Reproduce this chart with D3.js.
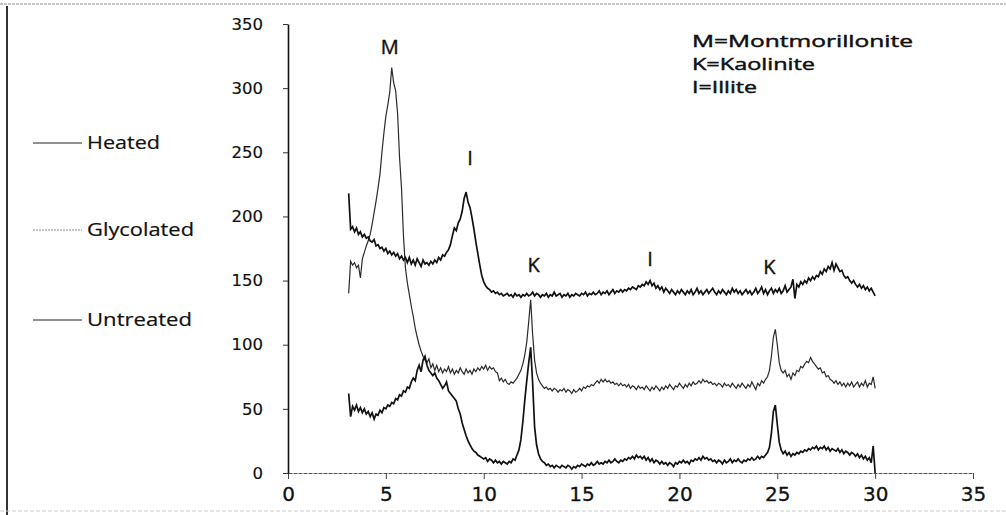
<!DOCTYPE html>
<html>
<head>
<meta charset="utf-8">
<script src="https://cdn.jsdelivr.net/npm/d3@7"></script>
<style>
  body { margin: 0; background: #fff; }
  svg { display: block; }
</style>
</head>
<body>
<div id="chart"></div>
<script>

// 2-theta sampling grid, 3.1 .. 30.0 in steps of 0.1 (270 points)
const twoTheta = d3.range(31, 301).map(function(d){ return d / 10 })

// intensities, one row per degree
const heated = [
    218,190,192,188,191,186,188,184,186,183,   // 3.1 - 4.0
    184,181,180,182,177,178,175,176,173,175,
    171,173,170,172,169,171,167,169,166,168,
    164,168,163,166,162,167,164,161,166,163,
    164,162,165,163,166,164,168,166,170,169,
    172,174,178,185,191,189,195,198,204,214,
    219,211,207,199,190,180,171,162,154,149,   // 9.1 - 10.0
    146,144,143,141,142,140,141,139,140,138,
    139,140,138,139,137,140,138,139,137,139,
    138,140,138,139,141,138,140,139,137,139,
    138,140,137,139,138,141,138,139,140,137,
    139,138,140,137,139,138,140,139,138,140,
    139,141,138,140,139,141,139,140,142,139,
    141,140,142,139,141,143,140,142,141,143,
    141,143,142,144,143,145,144,143,146,145,
    147,146,149,147,150,146,148,144,146,143,   // 18.1 - 19.0
    145,141,144,142,140,143,141,139,142,140,
    143,141,139,142,140,143,139,141,144,140,
    142,139,141,143,140,142,144,141,139,142,
    140,143,141,139,142,140,144,141,143,140,
    142,139,141,143,140,142,139,141,144,140,
    142,145,140,143,139,142,144,140,143,141,
    144,140,142,146,141,143,145,151,136,147,
    145,149,147,150,148,152,150,153,151,154,
    153,157,155,159,157,161,159,164,158,163,
    160,157,158,154,152,153,150,148,150,147,
    145,147,144,146,143,145,142,144,141,138    // 29.1 - 30.0
]

const glycolated = [
    140,165,162,164,160,162,152,167,172,177,   // 3.1 - 4.0
    181,186,194,203,212,222,233,250,265,278,
    287,297,316,304,298,280,246,222,185,160,
    148,139,130,122,113,106,100,95,91,88,
    86,89,82,85,80,84,79,82,78,81,
    79,83,78,81,77,80,78,82,79,77,
    81,78,80,77,81,79,82,80,83,81,
    84,80,83,81,82,79,78,72,74,71,
    73,70,69,71,70,72,74,77,80,85,
    92,102,118,135,108,88,78,73,70,68,         // 12.1 - 13.0
    66,67,65,66,64,66,65,63,65,64,
    66,63,65,64,62,65,63,64,66,64,
    67,66,68,67,69,68,70,72,70,73,
    71,73,71,72,70,71,69,70,68,70,
    68,69,67,69,66,68,67,65,68,66,
    67,65,68,66,64,67,65,68,66,64,
    67,65,68,66,69,67,65,68,67,70,
    68,66,69,67,70,68,71,69,70,72,
    70,73,71,72,70,71,69,70,68,70,
    69,67,70,68,69,67,70,68,66,69,
    67,70,68,66,69,67,71,68,65,70,
    68,72,70,73,75,80,91,106,112,100,          // 24.1 - 25.0
    86,80,78,80,75,77,73,78,76,80,
    79,83,82,85,87,86,90,87,85,83,
    81,82,78,79,75,76,73,72,70,72,
    69,71,68,70,67,70,68,71,67,69,
    71,67,70,68,72,67,70,69,75,66
]

const untreated = [
    62,44,52,49,53,48,51,47,50,46,             // 3.1 - 4.0
    48,44,47,42,46,45,49,47,51,50,
    53,52,55,54,58,57,61,60,64,63,
    67,66,71,74,72,80,84,79,88,91,
    84,80,78,76,78,74,72,69,66,68,
    71,64,62,60,58,56,50,46,39,34,
    29,25,22,19,17,16,14,13,12,11,
    12,9,11,10,8,10,8,9,7,9,
    8,7,9,8,11,10,14,18,26,40,
    57,72,86,98,70,36,22,15,11,9,              // 12.1 - 13.0
    8,6,7,5,6,4,6,5,4,6,
    5,4,6,5,3,5,4,6,5,7,
    6,5,7,6,8,6,7,9,7,8,
    7,9,8,10,8,9,11,9,8,10,
    9,11,10,12,11,13,11,14,12,13,
    11,13,10,12,9,11,8,10,9,7,
    9,7,8,6,8,7,5,8,7,9,
    8,10,8,9,7,10,9,11,10,12,
    10,13,11,12,10,11,9,10,8,10,
    9,7,10,8,9,11,8,10,9,11,
    9,8,10,9,11,10,12,10,11,13,
    11,13,12,14,16,20,31,48,53,38,             // 24.1 - 25.0
    24,18,15,17,14,16,13,15,14,16,
    15,17,16,18,17,19,18,20,19,21,
    18,20,19,21,18,20,17,19,18,17,
    19,16,18,15,17,16,14,16,15,13,
    15,12,14,11,13,10,12,8,21,0
]

const seriesNames = ['Heated', 'Glycolated', 'Untreated']
const xTicks = [0, 5, 10, 15, 20, 25, 30, 35]
const yTicks = [0, 50, 100, 150, 200, 250, 300, 350]

// peak letters and where they sit (2-theta, intensity)
const peakLabels = ['M', 'I', 'K', 'I', 'K']
const peakX = [5.2, 9.3, 12.55, 18.5, 24.6]
const peakY = [327, 240, 157, 161, 155]

const keyLines = ['M=Montmorillonite', 'K=Kaolinite', 'I=Illite']

let svgWidth = 1006
let svgHeight = 515
let ink = '#111'

let x = d3.scaleLinear()
    .domain([0, 35])
    .range([288, 973])

let y = d3.scaleLinear()
    .domain([0, 350])
    .range([473, 24])

let svg = d3.select('#chart')
    .append('svg')
        .attr('width', svgWidth)
        .attr('height', svgHeight)

svg.append('rect')
    .attr('width', svgWidth)
    .attr('height', svgHeight)
    .attr('fill', '#fff')

// scanned page frame
svg.append('line')
    .attr('x1', 0).attr('x2', svgWidth).attr('y1', 4).attr('y2', 4)
    .attr('stroke', '#888').attr('stroke-dasharray', '3,1')
svg.append('line')
    .attr('x1', 7).attr('x2', 7).attr('y1', 6).attr('y2', svgHeight)
    .attr('stroke', '#333').attr('stroke-width', 2)
svg.append('line')
    .attr('x1', 0).attr('x2', svgWidth).attr('y1', 511).attr('y2', 511)
    .attr('stroke', '#ccc').attr('stroke-dasharray', '4,2')

//X-AXIS
let xAxis = svg.append('g')
    .attr('transform', `translate(0, ${y(0)})`)
    .call(d3.axisBottom(x).tickValues(xTicks).tickSize(6).tickPadding(8).tickSizeOuter(0))
xAxis.select('.domain')
    .attr('stroke', '#555')
    .attr('stroke-dasharray', '4,1')
xAxis.selectAll('.tick line').attr('stroke', '#444')
xAxis.selectAll('text')
    .attr('font-family', 'DejaVu Sans')
    .attr('font-size', 20)
    .attr('fill', ink)
    .attr('stroke', ink)
    .attr('stroke-width', 0.3)

//Y-AXIS
let yAxis = svg.append('g')
    .attr('transform', `translate(${x(0)}, 0)`)
    .call(d3.axisLeft(y).tickValues(yTicks).tickSize(5).tickPadding(20).tickSizeOuter(0))
yAxis.select('.domain')
    .attr('stroke', ink)
    .attr('stroke-width', 1.6)
yAxis.selectAll('.tick line').attr('stroke', '#333')
yAxis.selectAll('text')
    .attr('font-family', 'DejaVu Sans')
    .attr('font-size', 16.5)
    .attr('fill', ink)
    .attr('stroke', ink)
    .attr('stroke-width', 0.2)

// patterns
let line = d3.line()
    .x(function(d){ return x(d[0]) })
    .y(function(d){ return y(d[1]) })

let series = [
    {values: glycolated, color: '#2a2a2a', width: 1.2},
    {values: heated, color: ink, width: 1.7},
    {values: untreated, color: ink, width: 1.7}
]

series.forEach(function(s){
    svg.append('path')
        .datum(twoTheta.map(function(t, i){ return [t, s.values[i]] }))
        .attr('fill', 'none')
        .attr('stroke', s.color)
        .attr('stroke-width', s.width)
        .attr('stroke-linejoin', 'miter')
        .attr('d', line)
})

// peak letters
svg.selectAll('.peak')
    .data(peakLabels)
    .enter()
    .append('text')
        .attr('x', function(d, i){ return x(peakX[i]) })
        .attr('y', function(d, i){ return y(peakY[i]) })
        .attr('text-anchor', 'middle')
        .attr('font-family', 'Open Sans')
        .attr('font-size', 20)
        .attr('fill', ink)
        .attr('stroke', ink)
        .attr('stroke-width', 0.4)
        .text(function(d){ return d })

// key for the letters
let keyWidths = [221, 123, 65]
svg.selectAll('.key')
    .data(keyLines)
    .enter()
    .append('text')
        .attr('x', 692)
        .attr('y', function(d, i){ return 47 + i * 23 })
        .attr('font-family', 'Open Sans')
        .attr('font-size', 16.5)
        .attr('fill', ink)
        .attr('stroke', ink)
        .attr('stroke-width', 0.45)
        .attr('textLength', function(d, i){ return keyWidths[i] })
        .attr('lengthAdjust', 'spacingAndGlyphs')
        .text(function(d){ return d })

// legend on the left
let legendY = [143, 230, 320]
let legendWidths = [73, 107, 105]
let legendColors = ['#222', '#888', '#222']
let legend = svg.selectAll('.legend')
    .data(seriesNames)
    .enter()
    .append('g')
        .attr('transform', function(d, i){ return `translate(0, ${legendY[i]})` })

legend.append('line')
    .attr('x1', 33).attr('x2', 82)
    .attr('stroke', function(d, i){ return legendColors[i] })
    .attr('stroke-width', 1)
    .attr('stroke-dasharray', function(d, i){ return i === 1 ? '2,1' : null })

legend.append('text')
    .attr('x', 87)
    .attr('dy', '0.35em')
    .attr('font-family', 'Open Sans')
    .attr('font-size', 18)
    .attr('fill', ink)
    .attr('stroke', ink)
    .attr('stroke-width', 0.2)
    .attr('textLength', function(d, i){ return legendWidths[i] })
    .attr('lengthAdjust', 'spacingAndGlyphs')
    .text(function(d){ return d })

</script>
</body>
</html>
